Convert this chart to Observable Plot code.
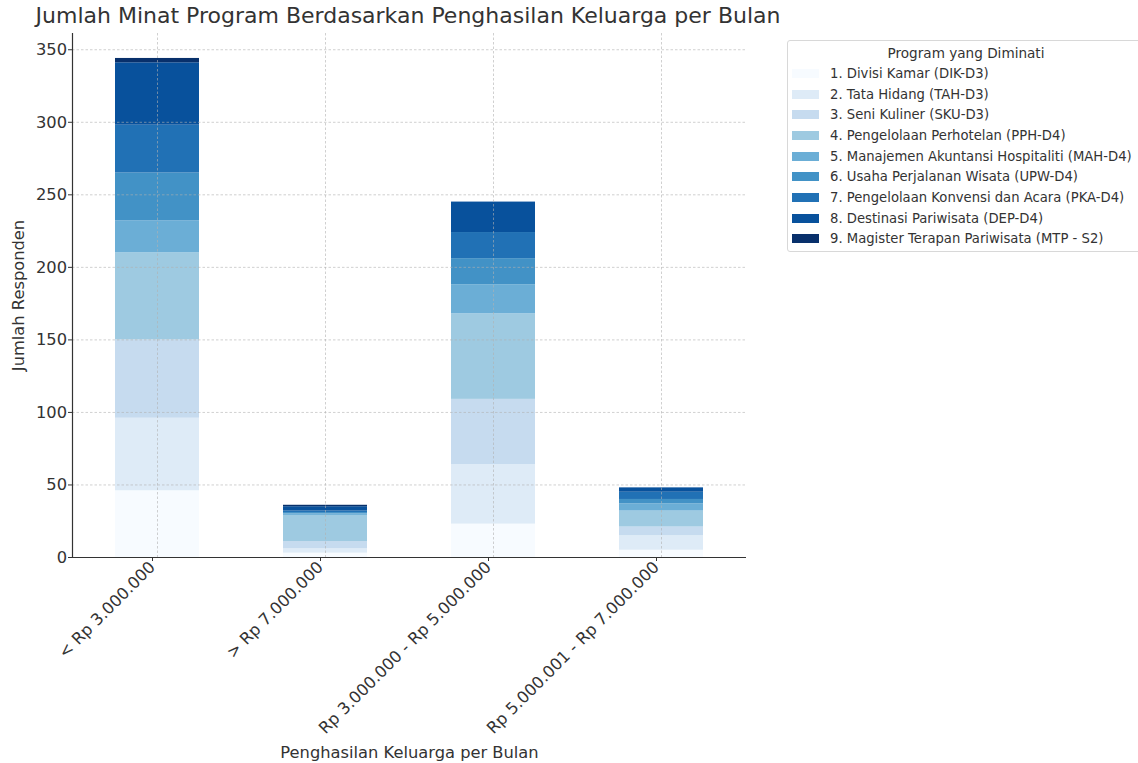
<!DOCTYPE html>
<html><head><meta charset="utf-8">
<script src="https://cdn.jsdelivr.net/npm/d3@7"></script>
<script src="https://cdn.jsdelivr.net/npm/@observablehq/plot@0.6"></script>
<style>
body{margin:0;background:#fff;overflow:hidden;font-family:"DejaVu Sans",sans-serif;}
#wrap{position:relative;width:1138px;height:763px;overflow:hidden;}
#chart{position:absolute;left:0;top:0;}
#title{position:absolute;left:0;top:3px;width:816px;text-align:center;font-size:22px;color:#333;white-space:nowrap;}
#legend{position:absolute;left:787px;top:40px;width:358px;height:212px;border:1px solid #d8d8d8;border-radius:3px;background:#fff;box-sizing:border-box;font-size:13.2px;color:#333;}
#legend .lt{text-align:center;margin-top:3px;height:19px;line-height:18px;font-size:13.6px;}
#legend .row{display:flex;align-items:center;height:20.7px;white-space:nowrap;}
#legend .sw{width:27px;height:9px;margin-left:4px;margin-right:11px;flex:none;}
</style></head>
<body>
<div id="wrap">
  <div id="chart"></div>
  <div id="title">Jumlah Minat Program Berdasarkan Penghasilan Keluarga per Bulan</div>
  <div id="legend"></div>
</div>
<script>
const incomes = ["< Rp 3.000.000", "> Rp 7.000.000", "Rp 3.000.000 - Rp 5.000.000", "Rp 5.000.001 - Rp 7.000.000"];
const programs = [
  "1. Divisi Kamar (DIK-D3)",
  "2. Tata Hidang (TAH-D3)",
  "3. Seni Kuliner (SKU-D3)",
  "4. Pengelolaan Perhotelan (PPH-D4)",
  "5. Manajemen Akuntansi Hospitaliti (MAH-D4)",
  "6. Usaha Perjalanan Wisata (UPW-D4)",
  "7. Pengelolaan Konvensi dan Acara (PKA-D4)",
  "8. Destinasi Pariwisata (DEP-D4)",
  "9. Magister Terapan Pariwisata (MTP - S2)"
];
// counts per program, in the order of incomes
const DIK = [46, 3, 23, 5];
const TAH = [50, 3, 41, 10];
const SKU = [54, 5, 45, 6];
const PPH = [60, 18, 59, 11];
const MAH = [22, 1, 20, 5];
const UPW = [33, 1, 18, 3];
const PKA = [33, 1, 18, 5];
const DEP = [43, 3, 21, 3];
const MTP = [3, 1, 0, 0];
const series = [DIK, TAH, SKU, PPH, MAH, UPW, PKA, DEP, MTP];
const blues = ["#f7fbff","#deebf7","#c6dbef","#9ecae1","#6baed6","#4292c6","#2171b5","#08519c","#08306b"];
const yTicks = [0, 50, 100, 150, 200, 250, 300, 350];

const data = [];
incomes.forEach((inc, i) => {
  series.forEach((s, p) => data.push({income: inc, program: programs[p], value: s[i]}));
});
const totals = incomes.map((_, i) => d3.sum(series, s => s[i]));
const ymax = d3.max(totals) * 1.05;

const chart = Plot.plot({
  width: 1138,
  height: 763,
  marginLeft: 72,
  marginRight: 392,
  marginTop: 33,
  marginBottom: 206,
  style: {fontFamily: "DejaVu Sans, sans-serif", fontSize: "16.3px", color: "#333", background: "transparent"},
  x: {domain: incomes, paddingInner: 0.5, paddingOuter: 0.25, label: null},
  y: {domain: [0, ymax], label: null},
  color: {domain: programs, range: blues},
  marks: [
    Plot.barY(data, {x: "income", y: "value", fill: "program"}),
    Plot.gridY(yTicks, {stroke: "#b0b0b0", strokeOpacity: 0.6, strokeDasharray: "2.5,2"}),
    Plot.gridX(incomes, {stroke: "#b0b0b0", strokeOpacity: 0.6, strokeDasharray: "2.5,2"}),
    Plot.axisY(yTicks, {tickSize: 4, tickPadding: 1.5, label: "Jumlah Responden", labelAnchor: "center", labelArrow: "none", labelOffset: 60, fontSize: 16.3}),
    Plot.axisX({tickSize: 4, tickRotate: -45, tickPadding: 3, dx: -5, label: "Penghasilan Keluarga per Bulan", labelAnchor: "center", labelArrow: "none", labelOffset: 200, fontSize: 16.3}),
    Plot.ruleY([0], {stroke: "#333", strokeWidth: 1.2}),
    Plot.frame({anchor: "left", stroke: "#333", strokeWidth: 1.2})
  ]
});
document.getElementById("chart").appendChild(chart);

const lg = document.getElementById("legend");
const lt = document.createElement("div");
lt.className = "lt";
lt.textContent = "Program yang Diminati";
lg.appendChild(lt);
programs.forEach((p, i) => {
  const r = document.createElement("div");
  r.className = "row";
  const sw = document.createElement("span");
  sw.className = "sw";
  sw.style.background = blues[i];
  const t = document.createElement("span");
  t.textContent = p;
  r.appendChild(sw);
  r.appendChild(t);
  lg.appendChild(r);
});
</script>
</body></html>
